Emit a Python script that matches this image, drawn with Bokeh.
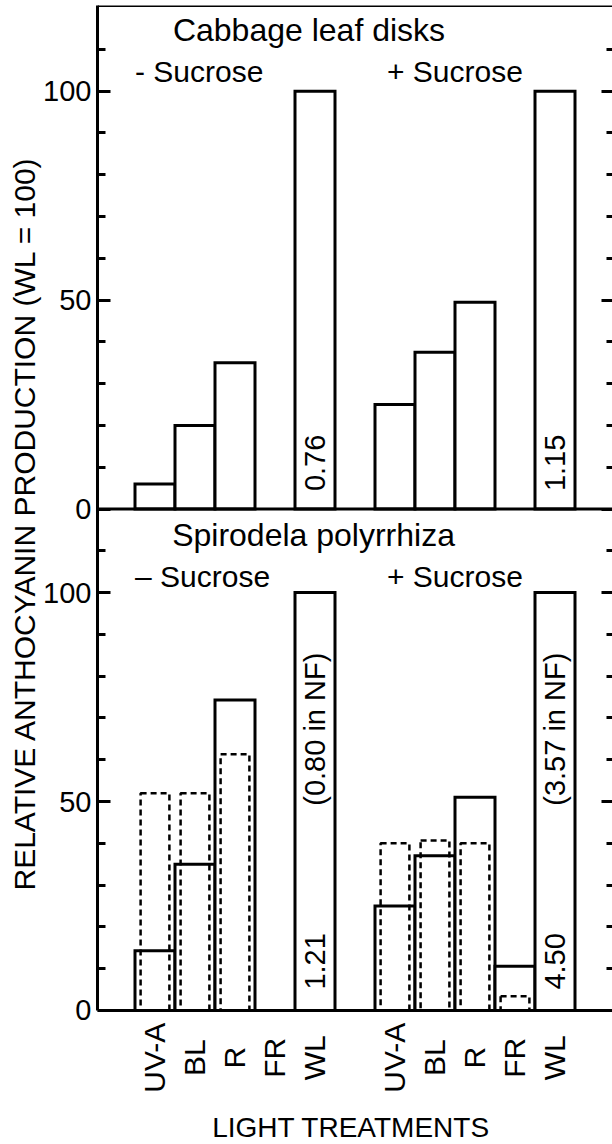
import math
from bokeh.plotting import figure
from bokeh.models import (ColumnDataSource, FactorRange, Range1d, LinearAxis,
                          FixedTicker, Span, Label, LabelSet, Title)
from bokeh.core.properties import value
from bokeh.embed import file_html
from bokeh.resources import INLINE

# ---------------- data ----------------
treatments = ["UV-A", "BL", "R", "FR", "WL"]
sucrose_groups = ["-", "+"]

# Cabbage leaf disks (top panel), relative anthocyanin (WL = 100)
cabbage_minus = [6, 20, 35, 0, 100]
cabbage_plus = [25, 37.5, 49.5, 0, 100]

# Spirodela polyrrhiza (bottom panel), solid bars
spirodela_minus = [14.3, 35, 74.3, 0, 100]
spirodela_plus = [25, 37, 51, 10.6, 100]
# Spirodela polyrrhiza, dashed bars (NF)
spirodela_nf_minus = [52, 52, 61.3, 0, 0]
spirodela_nf_plus = [40, 40.7, 40, 3.4, 0]

cabbage_wl_notes = ["0.76", "1.15"]
spirodela_wl_notes = ["1.21", "4.50"]
spirodela_nf_notes = ["(0.80 in NF)", "(3.57 in NF)"]

y_major = [0, 50, 100]
y_minor = [10, 20, 30, 40, 60, 70, 80, 90, 110]

panel_titles = ["Cabbage leaf disks", "Spirodela  polyrrhiza"]
sucrose_labels_top = ["- Sucrose", "+ Sucrose"]
sucrose_labels_bottom = ["\u2013 Sucrose", "+ Sucrose"]
y_title = "RELATIVE  ANTHOCYANIN  PRODUCTION  (WL = 100)"
x_title = "LIGHT  TREATMENTS"

# ---------------- style ----------------
FONT = "Liberation Sans"
PANEL_MAX = 120.5
TOP_OFFSET = 120
LABEL_AREA = 32.07   # data units below the bottom panel used for category labels

factors = [(g, t) for g in sucrose_groups for t in treatments]
x_range = FactorRange(*factors, factor_padding=0, group_padding=1.0,
                      range_padding=0.9375, range_padding_units="absolute")

p = figure(width=612, height=1144, x_range=x_range,
           y_range=Range1d(-LABEL_AREA, TOP_OFFSET + PANEL_MAX),
           output_backend="svg", toolbar_location=None, title=None,
           x_axis_location=None, y_axis_location=None,
           min_border_left=97, min_border_right=0, min_border_top=5, min_border_bottom=0)
p.extra_y_ranges = {"top": Range1d(-TOP_OFFSET - LABEL_AREA, PANEL_MAX)}
p.outline_line_color = None
p.background_fill_color = "white"
p.border_fill_color = "white"
p.grid.visible = False

# axes: one tick set per panel
ticks = y_major + [t + TOP_OFFSET for t in y_major]
minors = y_minor + [t + TOP_OFFSET for t in y_minor]
overrides = {t + TOP_OFFSET: str(t) for t in y_major}
overrides.update({t: str(t) for t in y_major})
axis_bounds = (0, TOP_OFFSET + PANEL_MAX)

left = LinearAxis(ticker=FixedTicker(ticks=ticks, minor_ticks=minors), bounds=axis_bounds,
                  major_label_overrides=overrides,
                  axis_line_width=3, major_tick_line_width=3, minor_tick_line_width=3,
                  major_tick_in=13, major_tick_out=0, minor_tick_in=8, minor_tick_out=0,
                  major_label_standoff=6, major_label_text_font=FONT,
                  major_label_text_font_size="29px", major_label_text_color="black")
p.add_layout(left, "left")

# vertical title; starts (bottom end) about 254 px above the canvas bottom
p.add_layout(Title(text=y_title, align="left", offset=254, standoff=0,
                   text_font=FONT, text_font_size="30px", text_font_style="normal",
                   text_color="black"), "left")

right = LinearAxis(ticker=FixedTicker(ticks=ticks, minor_ticks=minors), bounds=axis_bounds,
                   axis_line_color=None, major_tick_line_width=3, minor_tick_line_width=3,
                   major_tick_in=11, major_tick_out=0, minor_tick_in=6, minor_tick_out=0,
                   major_label_standoff=0, major_label_text_font_size="0px",
                   major_label_text_color=None)
p.add_layout(right, "right")

# frame lines
for loc, rng in ((PANEL_MAX, "top"), (0, "top"), (0, "default")):
    p.add_layout(Span(location=loc, dimension="width", line_width=3, line_color="black",
                      y_range_name=rng))


def add_bars(minus_vals, plus_vals, width, range_name, dashed):
    xs, tops = [], []
    for g, vals in zip(sucrose_groups, (minus_vals, plus_vals)):
        for t, v in zip(treatments, vals):
            if v > 0:
                xs.append((g, t))
                tops.append(v)
    src = ColumnDataSource(dict(x=xs, top=tops))
    if dashed:
        p.vbar(x="x", top="top", bottom=0, width=width, source=src, y_range_name=range_name,
               fill_color=None, line_color="black", line_width=2.5, line_dash="6 4")
    else:
        p.vbar(x="x", top="top", bottom=0, width=width, source=src, y_range_name=range_name,
               fill_color="white", line_color="black", line_width=3, line_join="miter")


add_bars(cabbage_minus, cabbage_plus, 1.0, "top", False)
add_bars(spirodela_minus, spirodela_plus, 1.0, "default", False)
add_bars(spirodela_nf_minus, spirodela_nf_plus, 0.72, "default", True)

wl_x = [(g, "WL") for g in sucrose_groups]
note_style = dict(angle=math.pi / 2, text_align="left", text_baseline="middle",
                  text_font=value(FONT), text_font_size=value("29px"), text_color="black")
p.text(x=wl_x, y=[4.3, 4.3], text=cabbage_wl_notes, y_range_name="top", **note_style)
p.text(x=wl_x, y=[5, 5], text=spirodela_wl_notes, **note_style)
p.text(x=wl_x, y=[49, 49], text=spirodela_nf_notes, **note_style)

# panel titles
title_style = dict(text_font=value(FONT), text_color="black", text_baseline="alphabetic")
p.text(x=[("-", "WL")], y=[114.7], text=[panel_titles[0]], x_offset=-6,
       text_align="center", y_range_name="top", text_font_size=value("32px"), **title_style)
p.text(x=[("-", "WL")], y=[113.8], text=[panel_titles[1]], x_offset=3,
       text_align="center", text_font_size=value("32px"), **title_style)
uv_x = [(g, "UV-A") for g in sucrose_groups]
p.text(x=uv_x, y=[104.8, 104.8], text=sucrose_labels_top, x_offset=[-20, -8],
       text_align="left", y_range_name="top", text_font_size=value("30px"), **title_style)
p.text(x=uv_x, y=[103.8, 103.8], text=sucrose_labels_bottom, x_offset=[-20, -8],
       text_align="left", text_font_size=value("30px"), **title_style)

# category labels under the bottom panel
lab_src = ColumnDataSource(dict(x=factors, y=[-11.3] * len(factors),
                                text=[t for g in sucrose_groups for t in treatments]))
p.add_layout(LabelSet(x="x", y="y", text="text", source=lab_src, angle=math.pi / 2,
                      text_align="center", text_baseline="middle",
                      text_font=value(FONT), text_font_size=value("30px"),
                      text_color="black"))

p.add_layout(Label(x=5.5, y=-28.0, text=x_title, text_align="center",
                   text_baseline="alphabetic", text_font=FONT, text_font_size="28px",
                   text_color="black"))

open("out.html", "w").write(file_html(p, INLINE))
